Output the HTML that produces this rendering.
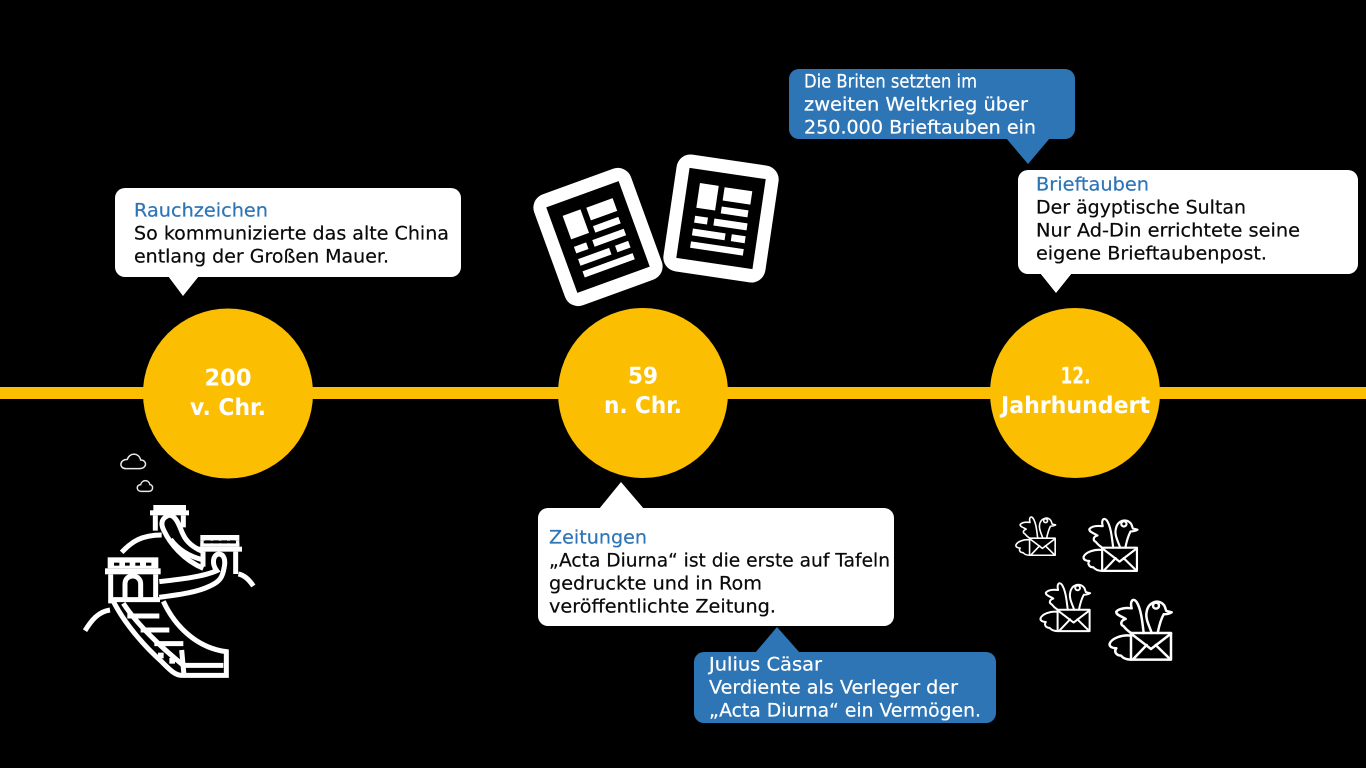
<!DOCTYPE html>
<html lang="de"><head><meta charset="utf-8"><title>Timeline</title>
<style>
html,body{margin:0;padding:0;background:#000;width:1366px;height:768px;overflow:hidden}
svg{display:block}
text{font-family:"DejaVu Sans","Liberation Sans",sans-serif;font-size:18.5px;text-rendering:geometricPrecision;stroke-width:.22px;transform:translateY(.6px)}
.k{fill:#0a0a0a;stroke:#0a0a0a}.w{fill:#fff;stroke:#fff}.b{fill:#2e75b6;stroke:#2e75b6}
.c{fill:#fff;font-weight:bold;font-size:23px;stroke:none;transform:none}
</style></head><body>
<svg width="1366" height="768" viewBox="0 0 1366 768" xmlns="http://www.w3.org/2000/svg">
<defs>
<g id="paper">
<rect x="-51.500" y="-59" width="103" height="118" rx="14" fill="#fff"/>
<rect x="-38.500" y="-45.500" width="77" height="91" fill="#000"/>
<g fill="#fff">
<rect x="-26" y="-32" width="19" height="25"/>
<rect x="-1" y="-31.500" width="28" height="13.500"/>
<rect x="-1" y="-12" width="27" height="7"/>
<rect x="-26" y="1" width="13" height="7"/>
<rect x="-6.500" y="1" width="33.500" height="7"/>
<rect x="-26.300" y="14" width="33" height="7"/>
<rect x="13" y="14" width="14" height="7"/>
<rect x="-26.300" y="27" width="53.300" height="6.500"/>
</g>
</g>
<g id="bird" fill="none" stroke="#fff" stroke-width="7.500" stroke-linejoin="round" stroke-linecap="round">
<rect x="66" y="104" width="120" height="80"/>
<path d="M66 106L126 152L186 106M73 182L113 140M183 182L140 140"/>
<path d="M128 104C122 84 108 62 113 40C118 10 150 0 166 22C170 30 170 34 172 38L188 42C178 48 170 48 164 48C154 66 150 84 146 104"/>
<circle cx="141" cy="22" r="9"/>
<path d="M104 104C100 70 96 30 82 10C72 -2 62 8 68 30C50 28 30 30 22 40C20 50 38 54 50 62C36 66 32 78 44 84C50 92 60 100 66 104"/>
<path d="M66 112C40 108 8 120 2 136C0 146 12 150 22 150C14 160 22 172 36 172C44 182 54 184 66 184"/>
</g>
</defs>

<rect x="0" y="387" width="1366" height="12" fill="#fcbe00"/>
<circle cx="228" cy="393.500" r="85" fill="#fcbe00"/>
<circle cx="643" cy="393" r="85" fill="#fcbe00"/>
<circle cx="1075" cy="393" r="85" fill="#fcbe00"/>

<text class="c" x="228" y="385.500" text-anchor="middle" textLength="47" lengthAdjust="spacingAndGlyphs">200</text>
<text class="c" x="228" y="415" text-anchor="middle" textLength="76" lengthAdjust="spacingAndGlyphs">v. Chr.</text>
<text class="c" x="643" y="383.500" text-anchor="middle" textLength="30" lengthAdjust="spacingAndGlyphs">59</text>
<text class="c" x="643" y="413" text-anchor="middle" textLength="78" lengthAdjust="spacingAndGlyphs">n. Chr.</text>
<text class="c" x="1075.500" y="383.500" text-anchor="middle" textLength="30" lengthAdjust="spacingAndGlyphs">12.</text>
<text class="c" x="1075.500" y="413" text-anchor="middle" textLength="149" lengthAdjust="spacingAndGlyphs">Jahrhundert</text>

<!-- callouts -->
<rect x="115" y="188" width="346" height="89" rx="10" fill="#fff"/>
<path d="M168 276H199L183 296Z" fill="#fff"/>
<text class="b" x="134" y="216" textLength="134" lengthAdjust="spacingAndGlyphs">Rauchzeichen</text>
<text class="k" x="134" y="239" textLength="315" lengthAdjust="spacingAndGlyphs">So kommunizierte das alte China</text>
<text class="k" x="134" y="262" textLength="255" lengthAdjust="spacingAndGlyphs">entlang der Großen Mauer.</text>

<rect x="789" y="69" width="286" height="70" rx="10" fill="#2e75b6"/>
<path d="M1006 138H1050L1028 164Z" fill="#2e75b6"/>
<text class="w" x="804" y="87" textLength="173" lengthAdjust="spacingAndGlyphs">Die Briten setzten im</text>
<text class="w" x="804" y="110" textLength="224" lengthAdjust="spacingAndGlyphs">zweiten Weltkrieg über</text>
<text class="w" x="804" y="133" textLength="232" lengthAdjust="spacingAndGlyphs">250.000 Brieftauben ein</text>

<rect x="1018" y="170" width="340" height="104" rx="10" fill="#fff"/>
<path d="M1040 273H1072L1056 293Z" fill="#fff"/>
<text class="b" x="1036" y="190" textLength="113" lengthAdjust="spacingAndGlyphs">Brieftauben</text>
<text class="k" x="1036" y="213" textLength="210" lengthAdjust="spacingAndGlyphs">Der ägyptische Sultan</text>
<text class="k" x="1036" y="236" textLength="264" lengthAdjust="spacingAndGlyphs">Nur Ad-Din errichtete seine</text>
<text class="k" x="1036" y="259" textLength="231" lengthAdjust="spacingAndGlyphs">eigene Brieftaubenpost.</text>

<rect x="538" y="508" width="356" height="118" rx="10" fill="#fff"/>
<path d="M599 509H644L621 482Z" fill="#fff"/>
<text class="b" x="549" y="543" textLength="98" lengthAdjust="spacingAndGlyphs">Zeitungen</text>
<text class="k" x="549" y="566" textLength="341" lengthAdjust="spacingAndGlyphs">„Acta Diurna“ ist die erste auf Tafeln</text>
<text class="k" x="549" y="589" textLength="213" lengthAdjust="spacingAndGlyphs">gedruckte und in Rom</text>
<text class="k" x="549" y="612" textLength="227" lengthAdjust="spacingAndGlyphs">veröffentlichte Zeitung.</text>

<rect x="694" y="652" width="302" height="71" rx="10" fill="#2e75b6"/>
<path d="M755 653H800L777 627Z" fill="#2e75b6"/>
<text class="w" x="709" y="670" textLength="113" lengthAdjust="spacingAndGlyphs">Julius Cäsar</text>
<text class="w" x="709" y="693" textLength="249" lengthAdjust="spacingAndGlyphs">Verdiente als Verleger der</text>
<text class="w" x="709" y="716" textLength="272" lengthAdjust="spacingAndGlyphs">„Acta Diurna“ ein Vermögen.</text>

<!-- newspapers -->
<use href="#paper" transform="translate(598,237) rotate(-20)"/>
<use href="#paper" transform="translate(721,218.500) rotate(8.400)"/>

<!-- wall -->
<g transform="translate(70,440) scale(.33333)">
<g fill="none" stroke="#e8e8e8" stroke-width="4.500">
<path d="M168 86H208C232 86 232 60 212 60C206 36 178 38 172 58C148 58 146 86 168 86Z"/>
<path d="M214 154H236C252 154 250 134 240 134C236 118 216 118 212 134C198 134 198 154 214 154Z"/>
</g>
<g fill="none" stroke="#fff" stroke-width="15" stroke-linecap="butt" stroke-linejoin="miter">
<path d="M155 337C185 305 215 285 275 285"/>
<path d="M505 402C522 405 538 420 550 438"/>
<path d="M45 572C65 540 85 515 120 510"/>
<!-- upper road -->
<path d="M300 225C275 232 270 250 282 272C300 310 340 360 400 385"/>
<path d="M300 225C322 232 328 260 340 285C352 310 375 325 400 335"/>
<path d="M302 298C325 330 360 350 400 360"/>
<!-- middle road -->
<path d="M268 425C330 418 400 410 440 392C425 372 428 345 446 342C462 342 468 360 462 385C458 410 450 425 420 438C380 458 320 465 268 472"/>
<!-- walls -->
<path d="M256 226V272M340 226V262M399 335V380M497 335V402"/>
<path d="M122 403V490M257 403V472"/>
<path d="M124 479H270"/>
<!-- arch -->
<path d="M165 472V432C165 416 176 408 188 408C202 408 212 418 212 432V472"/>
<!-- stairs -->
<path d="M128 480C165 555 230 625 275 665C300 690 315 706 335 706H469V635C390 625 320 570 280 484"/>
<path d="M160 490C195 545 265 615 340 676H460"/>
<path d="M335 630L342 706"/>
<path d="M172 528H268M212 570H298M253 611H340"/>
</g>
<g fill="#fff">
<rect x="250" y="195" width="98" height="17"/>
<rect x="240" y="211" width="117" height="15"/>
<rect x="391" y="285" width="117" height="17"/>
<rect x="391" y="302" width="10" height="18"/><rect x="498" y="302" width="10" height="18"/>
<rect x="391" y="310" width="117" height="10"/>
<rect x="380" y="320" width="136" height="15"/>
<rect x="113" y="352" width="152" height="17"/>
<rect x="113" y="369" width="152" height="16"/>
<rect x="105" y="385" width="167" height="18"/>
<rect x="264" y="638" width="17" height="17"/>
<rect x="298" y="654" width="17" height="17"/>
</g>
<g fill="#000">
<rect x="405" y="301" width="16" height="9"/><rect x="430" y="301" width="16" height="9"/><rect x="455" y="301" width="16" height="9"/><rect x="480" y="301" width="16" height="9"/>
<rect x="132" y="368" width="16" height="9"/><rect x="165" y="368" width="14" height="9"/><rect x="196" y="368" width="14" height="9"/><rect x="228" y="368" width="16" height="9"/>
</g>
</g>

<!-- birds -->
<use href="#bird" transform="translate(1015.500,516) scale(.2133)"/>
<use href="#bird" transform="translate(1083,517.500) scale(.29)"/>
<use href="#bird" transform="translate(1040,582) scale(.2667)"/>
<use href="#bird" transform="translate(1109,598.300) scale(.3333)"/>
</svg>
</body></html>
